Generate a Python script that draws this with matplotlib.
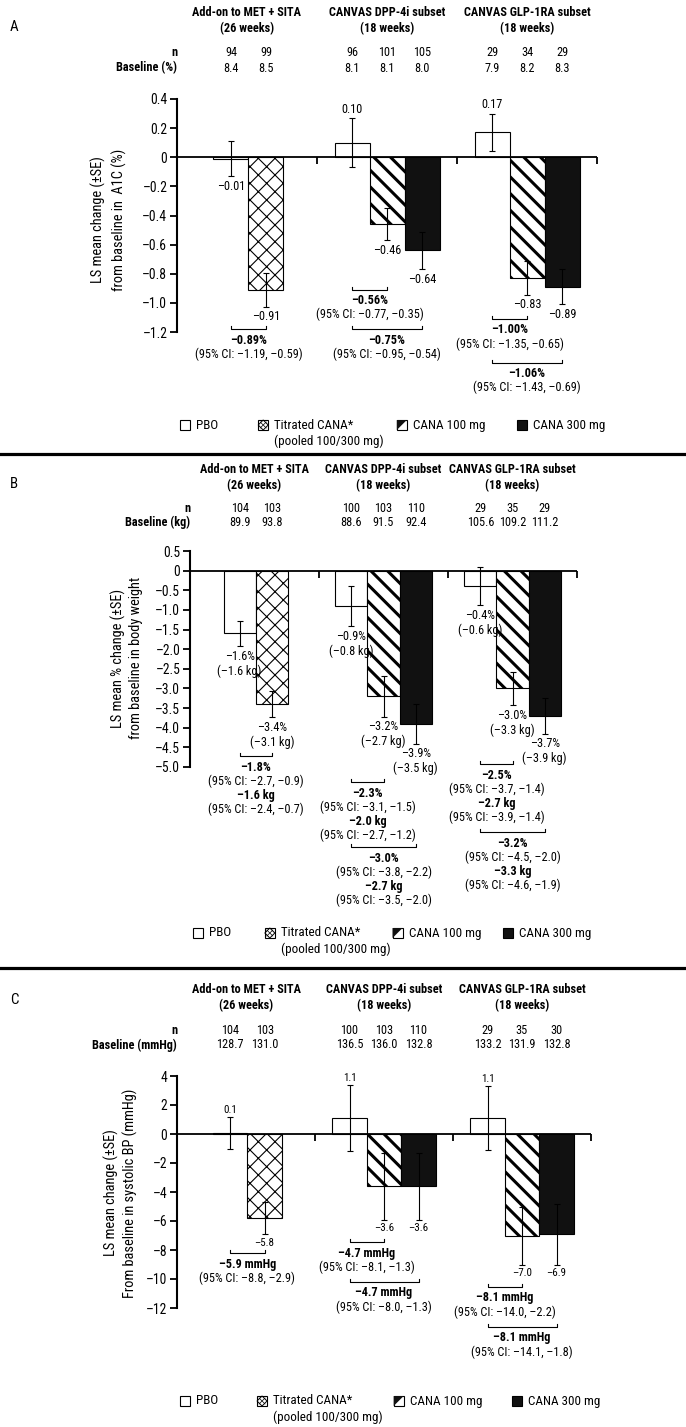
import matplotlib
matplotlib.use('Agg')
from matplotlib import pyplot as plt
from matplotlib import font_manager as fm
from matplotlib import transforms
from matplotlib.font_manager import FontProperties
from matplotlib.textpath import TextPath
from matplotlib.patches import Rectangle, Polygon
from matplotlib.lines import Line2D

W, H = 686, 1427  # output size in px at dpi 100

# the reference uses a condensed sans; take the narrowest one we have
fonts = fm.fontManager.ttflist
names = set(f.name for f in fonts)
FAMILY, STRETCH = 'Liberation Sans', 'normal'
for cand in ['Liberation Sans Narrow', 'Arial Narrow', 'Roboto Condensed',
             'Open Sans Condensed', 'DejaVu Sans Condensed']:
    if cand in names:
        FAMILY = cand
        break
else:
    cond = [f.name for f in fonts if str(f.stretch) in ('condensed', 'semi-condensed')]
    if cond:
        FAMILY, STRETCH = cond[0], 'condensed'
    elif 'Liberation Sans' not in names:
        FAMILY = 'DejaVu Sans'
plt.rcParams['font.family'] = [FAMILY, 'DejaVu Sans']
plt.rcParams['font.stretch'] = STRETCH

# scale all sizes so that a CI line is as wide as in the reference (~107 px)
probe = TextPath((0, 0), '(95% CI: –1.19, –0.59)', size=9,
                 prop=FontProperties(family=FAMILY, stretch=STRETCH))
K = min(1.0, 107 / (probe.get_extents().width * 100 / 72))
plt.rcParams['font.size'] = 9 * K
plt.rcParams['hatch.linewidth'] = 2.2

# ---------------- data ----------------
group_titles = ['Add-on to MET + SITA\n(26 weeks)',
                'CANVAS DPP-4i subset\n(18 weeks)',
                'CANVAS GLP-1RA subset\n(18 weeks)']
group_arms = [['PBO', 'TIT'], ['PBO', 'C100', 'C300'], ['PBO', 'C100', 'C300']]

# A: A1C
a1c_n = [['94', '99'], ['96', '101', '105'], ['29', '34', '29']]
a1c_base = [['8.4', '8.5'], ['8.1', '8.1', '8.0'], ['7.9', '8.2', '8.3']]
a1c_mean = [[-0.01, -0.91], [0.10, -0.46, -0.64], [0.17, -0.83, -0.89]]
a1c_se = [[0.12, 0.115], [0.17, 0.11, 0.13], [0.13, 0.115, 0.12]]
a1c_label = [['–0.01', '–0.91'], ['0.10', '–0.46', '–0.64'], ['0.17', '–0.83', '–0.89']]
a1c_diff = [(0, 0, 1, ['–0.89%', '(95% CI: –1.19, –0.59)']),
            (1, 0, 1, ['–0.56%', '(95% CI: –0.77, –0.35)']),
            (1, 0, 2, ['–0.75%', '(95% CI: –0.95, –0.54)']),
            (2, 0, 1, ['–1.00%', '(95% CI: –1.35, –0.65)']),
            (2, 0, 2, ['–1.06%', '(95% CI: –1.43, –0.69)'])]
a1c_ticks = [0.4, 0.2, 0, -0.2, -0.4, -0.6, -0.8, -1.0, -1.2]
a1c_ticklabels = ['0.4', '0.2', '0', '–0.2', '–0.4', '–0.6', '–0.8', '–1.0', '–1.2']

# B: body weight
bw_n = [['104', '103'], ['100', '103', '110'], ['29', '35', '29']]
bw_base = [['89.9', '93.8'], ['88.6', '91.5', '92.4'], ['105.6', '109.2', '111.2']]
bw_mean = [[-1.6, -3.4], [-0.9, -3.2, -3.9], [-0.4, -3.0, -3.7]]
bw_se = [[0.33, 0.33], [0.52, 0.52, 0.51], [0.48, 0.43, 0.46]]
bw_label = [['–1.6%\n(–1.6 kg)', '–3.4%\n(–3.1 kg)'],
            ['–0.9%\n(–0.8 kg)', '–3.2%\n(–2.7 kg)', '–3.9%\n(–3.5 kg)'],
            ['–0.4%\n(–0.6 kg)', '–3.0%\n(–3.3 kg)', '–3.7%\n(–3.9 kg)']]
bw_diff = [(0, 0, 1, ['–1.8%', '(95% CI: –2.7, –0.9)', '–1.6 kg', '(95% CI: –2.4, –0.7)']),
           (1, 0, 1, ['–2.3%', '(95% CI: –3.1, –1.5)', '–2.0 kg', '(95% CI: –2.7, –1.2)']),
           (1, 0, 2, ['–3.0%', '(95% CI: –3.8, –2.2)', '–2.7 kg', '(95% CI: –3.5, –2.0)']),
           (2, 0, 1, ['–2.5%', '(95% CI: –3.7, –1.4)', '–2.7 kg', '(95% CI: –3.9, –1.4)']),
           (2, 0, 2, ['–3.2%', '(95% CI: –4.5, –2.0)', '–3.3 kg', '(95% CI: –4.6, –1.9)'])]
bw_ticks = [0.5, 0, -0.5, -1.0, -1.5, -2.0, -2.5, -3.0, -3.5, -4.0, -4.5, -5.0]
bw_ticklabels = ['0.5', '0', '–0.5', '–1.0', '–1.5', '–2.0', '–2.5', '–3.0',
                 '–3.5', '–4.0', '–4.5', '–5.0']

# C: systolic BP
bp_n = [['104', '103'], ['100', '103', '110'], ['29', '35', '30']]
bp_base = [['128.7', '131.0'], ['136.5', '136.0', '132.8'], ['133.2', '131.9', '132.8']]
bp_mean = [[0.1, -5.8], [1.1, -3.6, -3.6], [1.1, -7.0, -6.9]]
bp_se = [[1.1, 1.1], [2.3, 2.3, 2.3], [2.2, 2.0, 2.1]]
bp_label = [['0.1', '–5.8'], ['1.1', '–3.6', '–3.6'], ['1.1', '–7.0', '–6.9']]
bp_diff = [(0, 0, 1, ['–5.9 mmHg', '(95% CI: –8.8, –2.9)']),
           (1, 0, 1, ['–4.7 mmHg', '(95% CI: –8.1, –1.3)']),
           (1, 0, 2, ['–4.7 mmHg', '(95% CI: –8.0, –1.3)']),
           (2, 0, 1, ['–8.1 mmHg', '(95% CI: –14.0, –2.2)']),
           (2, 0, 2, ['–8.1 mmHg', '(95% CI: –14.1, –1.8)'])]
bp_ticks = [4, 2, 0, -2, -4, -6, -8, -10, -12]
bp_ticklabels = ['4', '2', '0', '–2', '–4', '–6', '–8', '–10', '–12']

legend_arms = ['PBO', 'TIT', 'C100', 'C300']
legend_text = ['PBO', 'Titrated CANA*', 'CANA 100 mg', 'CANA 300 mg']

# ---------------- styling / layout ----------------
arm_style = {'PBO': ('white', None, 0),
             'TIT': ('white', 'xx', 0.8),
             'C100': ('white', '\\\\', 2.2),
             'C300': ('#111111', None, 0)}

fig = plt.figure(figsize=(W / 100, H / 100), dpi=100)


def fx(px):
    return px / W


def fy(py):
    return 1 - py / H


def draw_panel(letter, geo, rows, ylim, ticks, ticklabels, ylabel, base_title,
               n_vals, base_vals, means, ses, labels, label_size, diffs, bracket_y):
    left, gw, top, bottom = geo
    ax = fig.add_axes([fx(left), fy(bottom), 3 * gw / W, (bottom - top) / H])
    ax.set_xlim(0, 3)
    ax.set_ylim(*ylim)
    ax.patch.set_alpha(0)
    unit = (bottom - top) / (ylim[1] - ylim[0])  # px per data unit
    for s in ['top', 'right', 'bottom']:
        ax.spines[s].set_visible(False)
    ax.spines['left'].set_linewidth(1.5)
    ax.set_xticks([])
    ax.set_yticks(ticks)
    ax.set_yticklabels(ticklabels, fontsize=10 * K)
    ax.tick_params(axis='y', length=5, width=1.3, pad=2)
    ax.axhline(0, color='black', lw=1.3, zorder=5)
    ax.vlines([1, 2, 3], 0, -7 / unit, color='black', lw=1.3, clip_on=False, zorder=5)

    blend = transforms.blended_transform_factory(ax.transData, fig.transFigure)
    fig.text(fx(10), fy(rows['letter']), letter, fontsize=11 * K, ha='left', va='center')
    ax.text(0, fy(rows['n']), 'n', transform=blend, ha='right', va='center', fontweight='bold')
    ax.text(0, fy(rows['base']), base_title, transform=blend, ha='right', va='center',
            fontweight='bold')
    fig.text(fx(rows['ylab'][0]), fy(rows['ylab'][1]), ylabel, rotation=90, ha='center',
             va='center', fontsize=10.5 * K, linespacing=rows['ylab'][2])

    centers = []
    for g, arms in enumerate(group_arms):
        offs = [0.385, 0.635] if len(arms) == 2 else [0.25, 0.5, 0.75]
        xs = [g + o for o in offs]
        centers.append(xs)
        ax.text(g + 0.5, fy(rows['head']), group_titles[g], transform=blend, ha='center',
                va='center', fontweight='bold', linespacing=1.3)
        for k, arm in enumerate(arms):
            face, hatch, hlw = arm_style[arm]
            v, e = means[g][k], ses[g][k]
            with plt.rc_context({'hatch.linewidth': hlw if hatch else 1.0}):
                bar = ax.bar(xs[k], v, width=0.25, color=face, edgecolor='black',
                             linewidth=0.8, hatch=hatch, zorder=2)[0]
            if hatch and hasattr(bar, 'set_hatch_linewidth'):
                bar.set_hatch_linewidth(hlw)
            ax.errorbar(xs[k], v, yerr=e, fmt='none', ecolor='black', elinewidth=0.8,
                        capsize=2.5, capthick=0.8, zorder=4)
            if v >= 0:
                ax.annotate(labels[g][k], (xs[k], v + e), xytext=(0, 1.5),
                            textcoords='offset points', ha='center', va='bottom',
                            fontsize=label_size * K)
            else:
                ax.annotate(labels[g][k], (xs[k], v - e), xytext=(0, -2.5),
                            textcoords='offset points', ha='center', va='top',
                            fontsize=label_size * K, linespacing=1.15)
            ax.text(xs[k], fy(rows['n']), n_vals[g][k], transform=blend, ha='center',
                    va='center')
            ax.text(xs[k], fy(rows['base']), base_vals[g][k], transform=blend,
                    ha='center', va='center')

    # treatment difference brackets
    line_off = [11, 25, 39, 53]
    for (g, i, j, lines), yb in zip(diffs, bracket_y):
        x1, x2 = centers[g][i], centers[g][j]
        h = 3 / unit
        ax.plot([x1, x1, x2, x2], [yb + h, yb, yb, yb + h], color='black', lw=0.8,
                clip_on=False)
        for li, txt in enumerate(lines):
            ax.annotate(txt, ((x1 + x2) / 2, yb), xytext=(0, -line_off[li] * 0.72),
                        textcoords='offset points', ha='center', va='center',
                        fontweight='bold' if li % 2 == 0 else 'normal',
                        annotation_clip=False)

    # legend
    ly = rows['legend']
    for frac, arm, txt in zip([0.02, 0.58, 1.57, 2.43], legend_arms, legend_text):
        x0 = left + frac * gw
        face = '#111111' if arm == 'C300' else 'white'
        fig.add_artist(Rectangle((fx(x0), fy(ly + 5)), 10 / W, 10 / H, facecolor=face,
                                 edgecolor='black', lw=0.8, transform=fig.transFigure))
        if arm == 'TIT':
            fig.add_artist(Polygon([(fx(x0 + 5), fy(ly - 5)), (fx(x0 + 10), fy(ly)),
                                    (fx(x0 + 5), fy(ly + 5)), (fx(x0), fy(ly))],
                                   closed=True, fill=False, lw=0.7,
                                   transform=fig.transFigure))
            for xa, xb in [(x0 + 2, x0 + 8), (x0 + 8, x0 + 2)]:
                fig.add_artist(Line2D([fx(xa), fx(xb)], [fy(ly - 3), fy(ly + 3)], lw=0.5,
                                      color='black', transform=fig.transFigure))
        if arm == 'C100':
            fig.add_artist(Polygon([(fx(x0), fy(ly - 5)), (fx(x0 + 10), fy(ly - 5)),
                                    (fx(x0), fy(ly + 5))], closed=True,
                                   facecolor='#111111', lw=0, transform=fig.transFigure))
        fig.text(fx(x0 + 16), fy(ly), txt, ha='left', va='center', fontsize=9.5 * K)
        if arm == 'TIT':
            fig.text(fx(x0 + 16), fy(ly + 16), '(pooled 100/300 mg)', ha='left',
                     va='center', fontsize=9.5 * K)
    return ax


draw_panel('A', (177, 140, 99, 332),
           {'letter': 27, 'head': 20.5, 'n': 53, 'base': 68, 'legend': 425,
            'ylab': (109, 220, 1.5)},
           (-1.2, 0.4), a1c_ticks, a1c_ticklabels,
           'LS mean change (±SE)\nfrom baseline in  A1C (%)', 'Baseline (%)',
           a1c_n, a1c_base, a1c_mean, a1c_se, a1c_label, 9, a1c_diff,
           [-1.18, -0.91, -1.18, -1.11, -1.41])

draw_panel('B', (190, 129, 551, 767),
           {'letter': 484, 'head': 477.5, 'n': 508, 'base': 522, 'legend': 933,
            'ylab': (127, 658, 1.3)},
           (-5.0, 0.5), bw_ticks, bw_ticklabels,
           'LS mean % change (±SE)\nfrom baseline in body weight', 'Baseline (kg)',
           bw_n, bw_base, bw_mean, bw_se, bw_label, 9, bw_diff,
           [-4.73, -5.39, -7.04, -4.93, -6.66])

draw_panel('C', (177, 138, 1076, 1308),
           {'letter': 1000, 'head': 997.5, 'n': 1031, 'base': 1045, 'legend': 1401,
            'ylab': (121, 1193, 1.3)},
           (-12, 4), bp_ticks, bp_ticklabels,
           'LS mean change (±SE)\nFrom baseline in systolic BP (mmHg)', 'Baseline (mmHg)',
           bp_n, bp_base, bp_mean, bp_se, bp_label, 8, bp_diff,
           [-8.21, -7.45, -10.2, -10.55, -13.3])

# panel separators
for sy in [454, 968]:
    fig.add_artist(Line2D([0, 1], [fy(sy), fy(sy)], lw=2.3, color='black',
                          transform=fig.transFigure))

fig.savefig('out.png', dpi=100)
